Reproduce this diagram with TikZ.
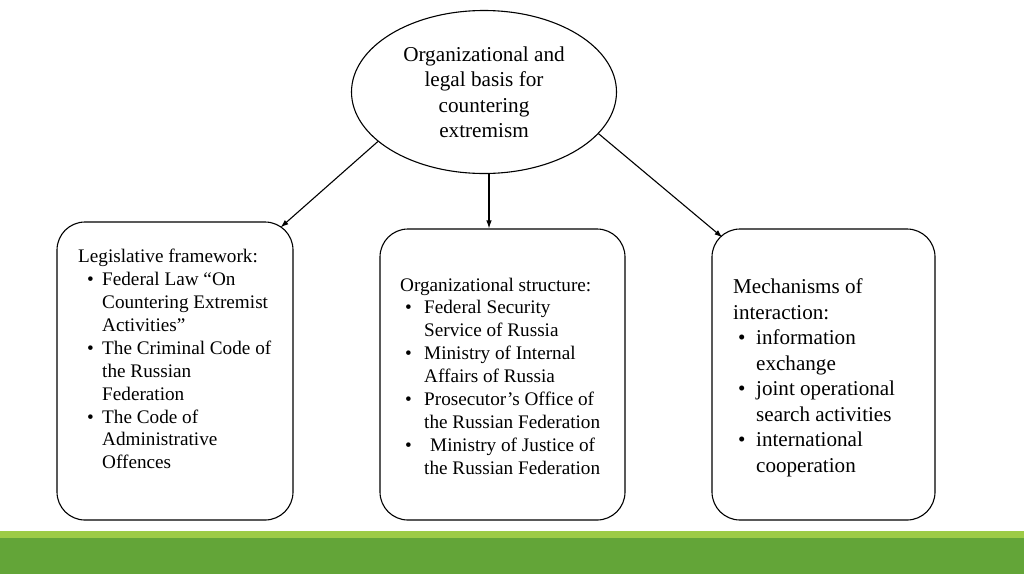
\documentclass[tikz,border=0pt]{standalone}
\usepackage{fontspec}
\setmainfont{Liberation Serif}
\usetikzlibrary{shapes.geometric,arrows.meta}
\definecolor{barlight}{HTML}{9DCB46}
\definecolor{bardark}{HTML}{63A538}
\newcommand{\bul}[2]{\makebox[#2pt][l]{\hspace*{#1pt}•}}
\newcommand{\ind}[1]{\makebox[#1pt]{}}
\begin{document}
\begin{tikzpicture}[x=1pt,y=-1pt,
  outline/.style={draw=black,line width=1.1pt},
  boxnode/.style={outline,rectangle,rounded corners=28pt,inner sep=0pt},
  txt/.style={anchor=north west,inner sep=0pt,align=left},
  arr/.style={line width=1.1pt,-{Latex[length=8pt,width=5.5pt]}}]
\useasboundingbox (0,0) rectangle (1024,574);
\fill[white] (0,0) rectangle (1024,574);
% green bar
\fill[barlight] (0,531) rectangle (1024,538);
\fill[bardark] (0,538) rectangle (1024,574);
% ellipse
\node[outline,ellipse,minimum width=265pt,minimum height=163pt,inner sep=0pt,
  align=center,font=\fontsize{21.2}{25.5}\selectfont] (ell) at (484,92)
  {Organizational and\\legal basis for\\countering\\extremism};
% boxes
\node[boxnode,minimum width=236pt,minimum height=298pt] (lbox) at (175,371) {};
\node[boxnode,minimum width=245pt,minimum height=291pt] (mbox) at (502.5,374.5) {};
\node[boxnode,minimum width=223pt,minimum height=291pt] (rbox) at (823.5,374.5) {};
% texts
\node[txt,font=\fontsize{19.2}{22.9}\selectfont] (ltxt) at (78,249)
  {Legislative framework:\\
   \bul{9}{24}Federal Law “On\\
   \ind{24}Countering Extremist\\
   \ind{24}Activities”\\
   \bul{9}{24}The Criminal Code of\\
   \ind{24}the Russian\\
   \ind{24}Federation\\
   \bul{9}{24}The Code of\\
   \ind{24}Administrative\\
   \ind{24}Offences};
\node[txt,font=\fontsize{19.2}{22.9}\selectfont] (mtxt) at (400,277.5)
  {Organizational structure:\\
   \bul{5}{24}Federal Security\\
   \ind{24}Service of Russia\\
   \bul{5}{24}Ministry of Internal\\
   \ind{24}Affairs of Russia\\
   \bul{5}{24}Prosecutor’s Office of\\
   \ind{24}the Russian Federation\\
   \bul{5}{30}Ministry of Justice of\\
   \ind{24}the Russian Federation};
\node[txt,font=\fontsize{21.1}{25.5}\selectfont] (rtxt) at (733,278.5)
  {Mechanisms of\\
   interaction:\\
   \bul{5}{23}information\\
   \ind{23}exchange\\
   \bul{5}{23}joint operational\\
   \ind{23}search activities\\
   \bul{5}{23}international\\
   \ind{23}cooperation};
% arrows
\draw[arr] (ell.205.7) -- ([xshift=-13pt,yshift=-6pt]lbox.north east);
\draw[arr] ([xshift=5pt]ell.south) -- ([xshift=5pt]ell.south |- mbox.north);
\draw[arr] (ell.340.5) -- ([xshift=11pt,yshift=-9pt]rbox.north west);
\end{tikzpicture}
\end{document}
